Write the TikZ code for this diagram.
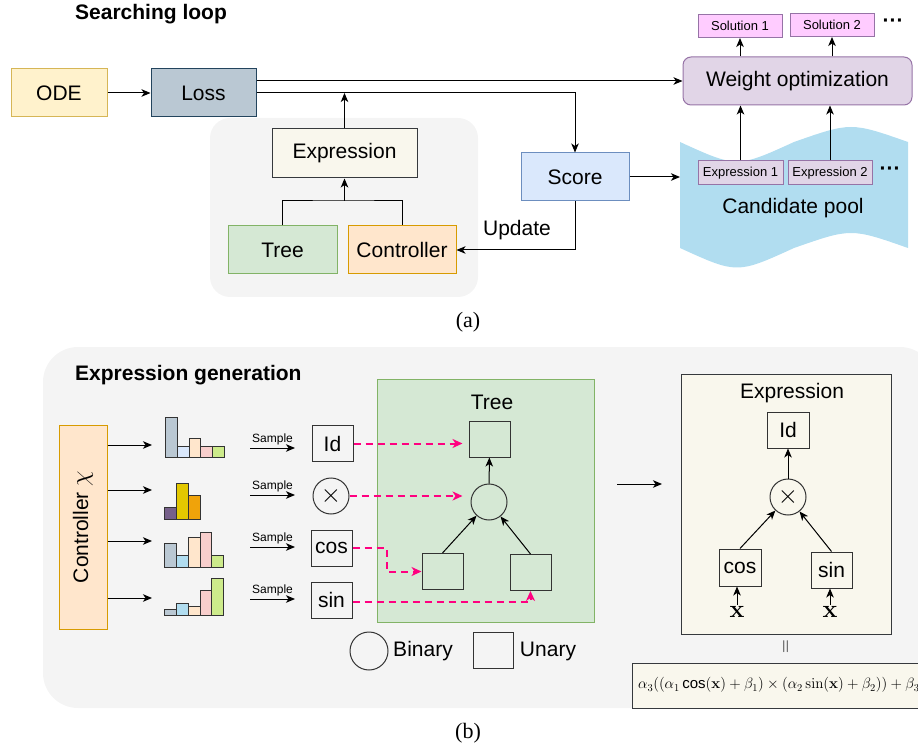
\documentclass[tikz,border=0pt]{standalone}
\usepackage{fix-cm}
\usepackage{amsmath}
\usepackage[no-math]{fontspec}
\setmainfont{Liberation Sans}
\newfontfamily\capfont{Liberation Serif}
\usetikzlibrary{arrows.meta,positioning}
\definecolor{odeFill}{HTML}{FFF2CC}
\definecolor{odeLine}{HTML}{D6B656}
\definecolor{lossFill}{HTML}{BAC8D3}
\definecolor{lossLine}{HTML}{23445D}
\definecolor{optFill}{HTML}{E1D5E7}
\definecolor{optLine}{HTML}{9673A6}
\definecolor{solFill}{HTML}{FFCCFF}
\definecolor{scoreFill}{HTML}{DAE8FC}
\definecolor{scoreLine}{HTML}{6C8EBF}
\definecolor{treeFill}{HTML}{D5E8D4}
\definecolor{treeLine}{HTML}{82B366}
\definecolor{ctrlFill}{HTML}{FFE6CC}
\definecolor{ctrlLine}{HTML}{D79B00}
\definecolor{poolFill}{HTML}{B1DDF0}
\definecolor{bgGray}{HTML}{F4F4F4}
\definecolor{exprFill}{HTML}{F9F7ED}
\definecolor{exprLine}{HTML}{36393D}
\definecolor{pinkLine}{HTML}{FF0080}
\definecolor{barRed}{HTML}{F8CECC}
\definecolor{barGreen}{HTML}{CDEB8B}
\definecolor{barPurple}{HTML}{76608A}
\definecolor{barYellow}{HTML}{E3C800}
\definecolor{barOrange}{HTML}{F0A30A}
\newcommand{\bigtxt}{\fontsize{21}{25}\selectfont}
\newcommand{\smalltxt}{\fontsize{13}{15}\selectfont}
\tikzstyle{box} = [draw,line width=1pt,inner sep=0pt,font=\bigtxt]
\tikzstyle{token} = [draw=black!80,line width=1pt,inner sep=0pt,minimum width=41pt,minimum height=36pt,font=\bigtxt]
\tikzstyle{binop} = [draw=black!80,line width=1pt,circle,inner sep=0pt,minimum size=36pt,font=\fontsize{26}{30}\selectfont]
\tikzstyle{tag} = [box,minimum width=84pt,minimum height=23pt,font=\smalltxt]
\tikzstyle{title} = [inner sep=0pt,font=\bigtxt\bfseries]
\tikzstyle{more} = [inner sep=0pt,font=\bigtxt\bfseries]
\tikzstyle{arr} = [line width=1pt,-{Stealth[length=9pt,width=7.5pt,inset=2.5pt]}]
\tikzstyle{pinkarr} = [draw=pinkLine,line width=2pt,dash pattern=on 7pt off 5pt,-{Stealth[length=10pt,width=9pt,inset=3pt]}]
\tikzstyle{bar} = [draw=black!80,line width=1pt]
\begin{document}
\begin{tikzpicture}[x=1pt,y=-1pt]
\useasboundingbox (0,0) rectangle (918,751);

% ---- (a) searching loop ----
\node[title,anchor=west] (loopTitle) at (75,14) {Searching loop};
\fill[bgGray,rounded corners=20pt] (210,118) rectangle (478,297);

\node[box,fill=odeFill,draw=odeLine,minimum width=96pt,minimum height=48pt] (ode) at (59,93) {ODE};
\node[box,fill=lossFill,draw=lossLine,minimum width=105pt,minimum height=48pt] (loss) at (203.5,93) {Loss};
\node[box,fill=optFill,draw=optLine,rounded corners=8pt,minimum width=229pt,minimum height=48pt] (wopt) at (797.5,81) {Weight optimization};
\node[tag,fill=solFill,draw=optLine] (sol1) at (740,26) {Solution 1};
\node[tag,fill=solFill,draw=optLine] (sol2) at (832,25) {Solution 2};
\node[more] (dotsA) at (893,23) {···};

\node[box,fill=exprFill,draw=exprLine,minimum width=145pt,minimum height=49pt] (expr) at (344.5,153.5) {Expression};
\node[box,fill=treeFill,draw=treeLine,minimum width=109pt,minimum height=48pt] (tree) at (282.5,250) {Tree};
\node[box,fill=ctrlFill,draw=ctrlLine,minimum width=108pt,minimum height=48pt] (ctrl) at (402,250) {Controller};
\node[box,fill=scoreFill,draw=scoreLine,minimum width=108pt,minimum height=48pt] (score) at (575,177) {Score};

% candidate pool
\fill[poolFill] (680,142) .. controls (737,168) .. (794,142) .. controls (851,122) .. (908,142)
  -- (908,248) .. controls (851,228) .. (794,248) .. controls (737,274) .. (680,248) -- cycle;
\coordinate (poolIn) at (680,177);
\node[tag,fill=optFill,draw=optLine,minimum width=85pt,minimum height=24pt] (cand1) at (740.5,173) {Expression 1};
\node[tag,fill=optFill,draw=optLine,minimum width=84pt,minimum height=24pt] (cand2) at (830,173) {Expression 2};
\node[more] (dotsB) at (890,171) {···};
\node[font=\bigtxt] (poolLbl) at (793,208) {Candidate pool};

\draw[arr] (ode) -- (loss);
\draw[arr] ([yshift=12pt]loss.east) -- (wopt.west);
\draw[arr] (loss.east) -| (score.north);
\draw[arr] (expr.north) -- (expr.north |- loss.east);
\coordinate (join) at (344.5,201);
\draw[line width=1pt] (tree.north) |- (join) -| (ctrl.north);
\draw[arr] (join) -- (expr.south);
\draw[arr] (score.south) |- (ctrl.east);
\node[font=\bigtxt] (upd) at (517,230) {Update};
\draw[arr] (score.east) -- (poolIn);
\draw[arr] (cand1.north) -- (cand1.north |- wopt.south);
\draw[arr] (cand2.north) -- (cand2.north |- wopt.south);
\draw[arr] (wopt.north -| sol1) -- (sol1.south);
\draw[arr] (wopt.north -| sol2) -- (sol2.south);

\node[font=\capfont\fontsize{22}{26}\selectfont] (capA) at (468,322) {(a)};

% ---- (b) expression generation ----
\fill[bgGray,rounded corners=35pt] (43,347) rectangle (935,708);
\node[title,anchor=west] (genTitle) at (75,375) {Expression generation};

\node[box,fill=ctrlFill,draw=ctrlLine,minimum width=48pt,minimum height=204pt] (ctrlB) at (83,527) {};
\node[font=\bigtxt,rotate=90] (ctrlLbl) at (ctrlB) {Controller {\fontsize{25}{30}\selectfont$\chi$}};

\foreach \i/\y in {1/445,2/490,3/541,4/598}{
  \coordinate (dist\i) at (152,\y);
  \draw[arr] (ctrlB.east |- dist\i) -- (dist\i);
}

% distributions
\foreach \x/\t/\c in {165.7/417.3/lossFill,177.4/446/scoreFill,189.1/438.3/ctrlFill,200.8/446.7/barRed,212.5/446/barGreen}
  \draw[bar,fill=\c] (\x,457.3) rectangle (\x+11.7,\t);
\foreach \x/\t/\c in {164.3/507.3/barPurple,176/483.3/barYellow,188/495.7/barOrange}
  \draw[bar,fill=\c] (\x,519) rectangle (\x+12,\t);
\foreach \x/\t/\c in {164.3/543.3/lossFill,176.2/555/poolFill,188.1/537.3/ctrlFill,200/532.3/barRed,211.9/555/barGreen}
  \draw[bar,fill=\c] (\x,567.3) rectangle (\x+11.9,\t);
\foreach \x/\t/\c in {164.3/609.3/lossFill,176.2/603.3/poolFill,188.1/606.7/ctrlFill,200/590.7/barRed,211.9/578.3/barGreen}
  \draw[bar,fill=\c] (\x,615.7) rectangle (\x+11.9,\t);

\foreach \i/\y in {1/448,2/495,3/547,4/599}{
  \coordinate (smpA\i) at (250,\y);
  \coordinate (smpB\i) at (295,\y);
  \draw[arr] (smpA\i) -- node[above,inner sep=3pt,font=\fontsize{12}{14}\selectfont] {Sample} (smpB\i);
}

\node[token] (sId) at (332.5,443.5) {Id};
\node[binop] (sMul) at (331,496) {$\times$};
\node[token] (sCos) at (331.5,548) {cos};
\node[token] (sSin) at (331.5,600) {sin};

% tree
\node[draw=treeLine,fill=treeFill,line width=1pt,minimum width=217pt,minimum height=243pt] (tBox) at (485.5,500.5) {};
\node[font=\bigtxt] (tLbl) at (492,402) {Tree};
\node[token] (tTop) at (489.5,439) {};
\node[binop] (tMul) at (489,502) {};
\node[token] (tL) at (442.5,571.5) {};
\node[token] (tR) at (530.5,572.5) {};
\draw[arr] (tMul) -- (tTop);
\draw[arr] (tL.north) -- (tMul);
\draw[arr] (tR.north) -- (tMul);

\draw[pinkarr,shorten >=6pt] (sId.east) -- (sId.east -| tTop.west);
\draw[pinkarr,shorten >=8pt] (sMul.east) -- (sMul.east -| tMul.west);
\draw[pinkarr] (sCos.east) -- ++(34,0) |- (tL.west);
\draw[pinkarr] ([yshift=-2pt]sSin.east) -| (tR.south);

% legend
\node[binop,minimum size=38pt] (lgBin) at (369,651) {};
\node[font=\bigtxt] (lgBinLbl) at (423,651) {Binary};
\node[token,minimum width=40pt] (lgUn) at (493,650) {};
\node[font=\bigtxt] (lgUnLbl) at (548,651) {Unary};

\coordinate (midA) at (617,484);
\coordinate (midB) at (662,484);
\draw[arr] (midA) -- (midB);

% resulting expression
\node[draw=exprLine,fill=exprFill,line width=1pt,minimum width=210pt,minimum height=260pt] (eBox) at (786,504) {};
\node[font=\bigtxt] (eLbl) at (792,393) {Expression};
\node[token,minimum width=42pt] (eId) at (788,430) {Id};
\node[binop] (eMul) at (788,497) {$\times$};
\node[token,minimum width=42pt,minimum height=37pt] (eCos) at (740,567.5) {cos};
\node[token] (eSin) at (831.5,570) {sin};
\node[font=\fontsize{25}{30}\selectfont,inner sep=1pt] (eX1) at (737,612) {$\mathbf{x}$};
\node[font=\fontsize{25}{30}\selectfont,inner sep=1pt] (eX2) at (830,612) {$\mathbf{x}$};
\draw[arr] (eMul) -- (eId);
\draw[arr] (eCos.north) -- (eMul);
\draw[arr] (eSin.north) -- (eMul);
\draw[arr] (eX1.north) -- (eX1.north |- eCos.south);
\draw[arr] (eX2.north) -- (eX2.north |- eSin.south);

\node[font=\fontsize{19}{22}\selectfont,rotate=90] (eEq) at (787,647) {$=$};
\node[draw=exprLine,fill=exprFill,line width=1pt,anchor=north west,minimum width=330pt,minimum height=45pt] (fBox) at (632,663) {};
\node[anchor=west,inner sep=0pt,font=\fontsize{15}{18}\selectfont] (formula) at (638,685)
  {$\alpha_3((\alpha_1\,\text{cos}(\mathbf{x})+\beta_1)\times(\alpha_2\sin(\mathbf{x})+\beta_2))+\beta_3$};

\node[font=\capfont\fontsize{22}{26}\selectfont] (capB) at (468,733) {(b)};
\end{tikzpicture}
\end{document}
